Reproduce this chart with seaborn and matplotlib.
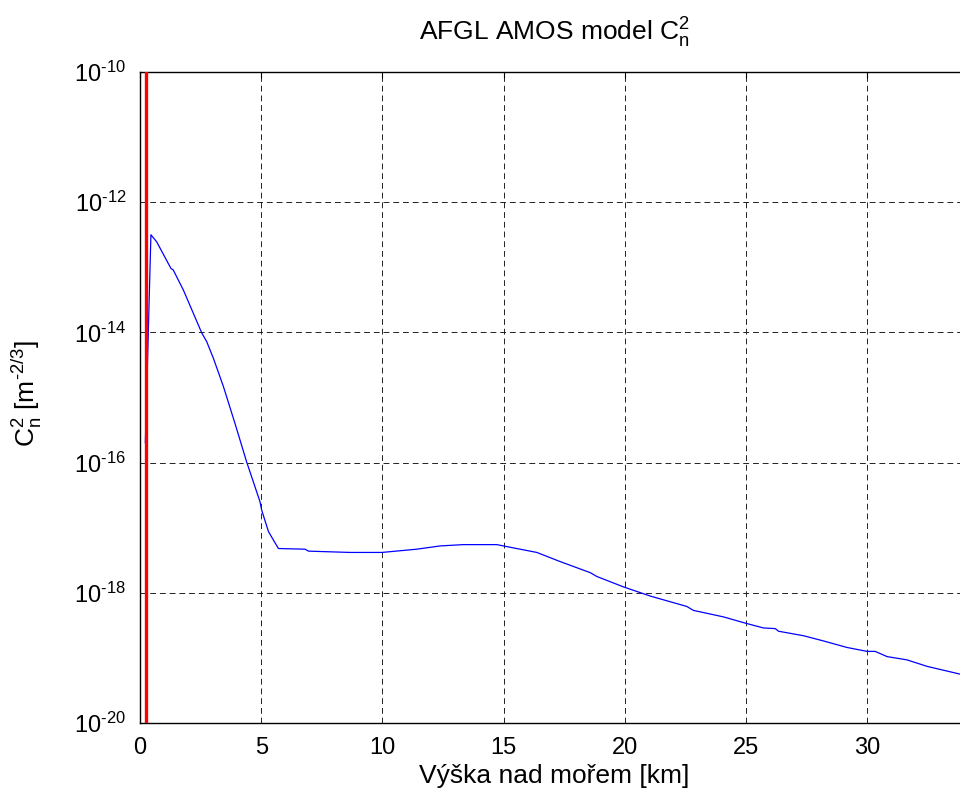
import numpy as np
import pandas as pd
import matplotlib
matplotlib.use("Agg")
import matplotlib.pyplot as plt
import seaborn as sns
from matplotlib.ticker import FixedLocator, FuncFormatter, NullLocator

# Altitude above sea level [km] and log10 of Cn^2
altitude_km = [
    0.22, 0.45, 0.69, 1.28, 1.37, 1.79, 2.55, 2.75, 3.03, 3.44, 3.92, 4.40,
    4.95, 5.02, 5.30, 5.71, 6.81, 6.95, 8.67, 9.98, 11.42, 12.38, 13.34,
    14.72, 14.99, 16.37, 17.33, 18.57, 18.85, 19.95, 21.05, 22.56, 22.83,
    24.07, 25.01, 25.72, 26.21, 26.34, 27.38, 28.20, 29.17, 30.00, 30.33,
    30.82, 31.64, 32.47, 33.84, 34.60,
]
cn2_log10 = [
    -15.70, -12.50, -12.61, -13.02, -13.04, -13.35, -14.01, -14.14, -14.40,
    -14.83, -15.40, -15.99, -16.60, -16.73, -17.06, -17.32, -17.33, -17.36,
    -17.38, -17.38, -17.33, -17.28, -17.26, -17.26, -17.28, -17.38, -17.52,
    -17.69, -17.75, -17.91, -18.05, -18.21, -18.27, -18.37, -18.47, -18.54,
    -18.55, -18.59, -18.66, -18.74, -18.84, -18.90, -18.90, -18.98, -19.03,
    -19.13, -19.25, -19.35,
]
ground_km = 0.25
y_tick_exp = [-20, -18, -16, -14, -12, -10]
x_ticks = [0, 5, 10, 15, 20, 25, 30]

df = pd.DataFrame({"alt": altitude_km, "cn2": 10.0 ** np.array(cn2_log10)})

sns.set_style("white")
plt.rcParams["font.family"] = ["Liberation Sans", "DejaVu Sans"]
plt.rcParams["mathtext.fontset"] = "custom"
plt.rcParams["mathtext.rm"] = "Liberation Sans"
plt.rcParams["mathtext.it"] = "Liberation Sans"
plt.rcParams["mathtext.default"] = "regular"
plt.rcParams["text.color"] = "black"

fig = plt.figure(figsize=(9.6, 7.94), dpi=100)
ax = fig.add_axes([140 / 960, 71 / 794, 829 / 960, 651 / 794])

sns.lineplot(data=df, x="alt", y="cn2", sort=False, color="#0000ff",
             linewidth=0.9, ax=ax, zorder=3)
ax.axvline(ground_km, color="#ff0000", linewidth=2.4, zorder=4)

ax.set_yscale("log")
ax.set_xlim(0, 34.2)
ax.set_ylim(1e-20, 1e-10)
ax.xaxis.set_major_locator(FixedLocator(x_ticks))
ax.yaxis.set_major_locator(FixedLocator([10.0 ** e for e in y_tick_exp]))
ax.yaxis.set_minor_locator(NullLocator())
ax.yaxis.set_major_formatter(
    FuncFormatter(lambda v, p: "$10^{\u2010%d}$" % round(-np.log10(v)))
)

ax.grid(True, which="major", color="#222222", linestyle=(0, (6, 4)),
        linewidth=0.7)
for s in ax.spines.values():
    s.set_color("black")
    s.set_linewidth(1.0)
ax.tick_params(direction="in", length=4, width=0.8, top=True, right=True,
               labelsize=17, colors="black", pad=10)

ax.set_xlabel("Výška nad mořem [km]", fontsize=19, labelpad=4, color="black")
ax.set_ylabel("")
fig.text(27 / 960, 0.504, "C$_n^2$ [m$^{\u20102/3}$]", fontsize=19,
         rotation=90, ha="center", va="center", color="black")
ax.text(0.5, 1.049, "AFGL AMOS model C$_n^2$", fontsize=19,
        transform=ax.transAxes, ha="center", va="baseline", color="black")

fig.savefig("out.png", dpi=100)
